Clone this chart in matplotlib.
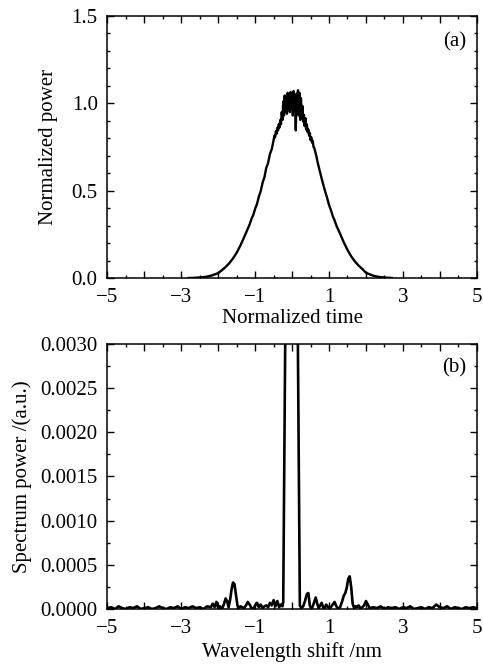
import matplotlib
matplotlib.use("Agg")
import matplotlib.pyplot as plt
from matplotlib.ticker import MultipleLocator, FuncFormatter

plt.rcParams['font.family'] = ['Liberation Serif', 'DejaVu Serif']
plt.rcParams['font.size'] = 15

# (a) pulse in time domain
time_a = [-2.8, -2.7, -2.6, -2.5, -2.4, -2.3, -2.2, -2.1, -2.0, -1.9, -1.8, -1.7,
          -1.6, -1.5, -1.4, -1.3, -1.2, -1.15, -1.1, -1.05, -1.0, -0.95, -0.9,
          -0.85, -0.8, -0.75, -0.7, -0.65, -0.6, -0.55,
          -0.50, -0.48, -0.46, -0.44, -0.42, -0.40, -0.38, -0.36, -0.34, -0.32,
          -0.30, -0.28, -0.26, -0.24, -0.22, -0.20, -0.18, -0.16, -0.14, -0.12,
          -0.10, -0.08, -0.06, -0.04, -0.02, 0.00, 0.02, 0.04, 0.06, 0.08,
          0.10, 0.12, 0.14, 0.16, 0.18, 0.20, 0.22, 0.24, 0.26, 0.28,
          0.30, 0.32, 0.34, 0.36, 0.38, 0.40, 0.42, 0.44, 0.46, 0.48,
          0.50, 0.52, 0.54, 0.56, 0.58, 0.60,
          0.65, 0.70, 0.75, 0.80, 0.85, 0.90, 0.95, 1.00, 1.05, 1.10, 1.15,
          1.20, 1.30, 1.40, 1.50, 1.60, 1.70, 1.80, 1.90, 2.00, 2.10, 2.20,
          2.30, 2.40, 2.50, 2.60, 2.70]
power_a = [0.0, 0.0005, 0.0015, 0.003, 0.005, 0.008, 0.013, 0.020, 0.028, 0.045, 0.063, 0.085,
           0.112, 0.145, 0.186, 0.233, 0.282, 0.307, 0.338, 0.362, 0.397, 0.424, 0.466,
           0.497, 0.545, 0.576, 0.630, 0.658, 0.710, 0.738,
           0.790, 0.815, 0.805, 0.840, 0.825, 0.860, 0.845, 0.880, 0.862, 0.905,
           0.880, 0.950, 0.905, 1.010, 0.930, 1.045, 0.955, 1.030, 0.940, 1.060,
           0.965, 1.035, 0.950, 1.065, 0.970, 1.050, 0.930, 1.070, 0.960, 1.040,
           0.845, 1.055, 0.950, 1.075, 0.930, 1.060, 0.905, 1.030, 0.920, 0.985,
           0.895, 0.935, 0.870, 0.915, 0.850, 0.880, 0.835, 0.850, 0.815, 0.830,
           0.790, 0.805, 0.775, 0.785, 0.750, 0.745,
           0.705, 0.655, 0.612, 0.570, 0.530, 0.492, 0.458, 0.418, 0.390, 0.355, 0.330,
           0.300, 0.253, 0.204, 0.161, 0.124, 0.095, 0.071, 0.052, 0.030, 0.021, 0.013,
           0.008, 0.005, 0.003, 0.0015, 0.0]

# (b) spectrum
shift_b = [-5.0, -4.9, -4.8, -4.7, -4.6, -4.5, -4.4, -4.3, -4.2, -4.1, -4.0, -3.9,
           -3.8, -3.7, -3.6, -3.5, -3.4, -3.3, -3.2, -3.1, -3.0, -2.9, -2.8, -2.7,
           -2.6, -2.5, -2.4, -2.3, -2.2, -2.15, -2.1, -2.05, -2.0, -1.95, -1.9, -1.85,
           -1.8, -1.76, -1.72, -1.68, -1.64, -1.60, -1.56, -1.52, -1.48, -1.44, -1.40,
           -1.35, -1.30, -1.25, -1.20, -1.15, -1.10, -1.05, -1.00, -0.95, -0.90, -0.85,
           -0.80, -0.75, -0.70, -0.65, -0.60, -0.55, -0.50, -0.45, -0.40, -0.35, -0.30,
           -0.26, -0.24, -0.185, -0.10, 0.0, 0.08, 0.155, 0.21, 0.25, 0.30, 0.35, 0.40,
           0.44, 0.48, 0.52, 0.56, 0.60, 0.64, 0.68, 0.72, 0.76, 0.80, 0.84, 0.88, 0.92,
           0.96, 1.00, 1.05, 1.10, 1.15, 1.20, 1.25, 1.30, 1.35, 1.40, 1.44, 1.48, 1.52,
           1.56, 1.60, 1.64, 1.68, 1.72, 1.76, 1.80, 1.85, 1.90, 1.95, 2.00, 2.05, 2.10,
           2.2, 2.3, 2.4, 2.5, 2.6, 2.7, 2.8, 2.9, 3.0, 3.1, 3.2, 3.3, 3.4, 3.5, 3.6,
           3.7, 3.8, 3.9, 4.0, 4.1, 4.2, 4.3, 4.4, 4.5, 4.6, 4.7, 4.8, 4.9, 5.0]
spec_b = [0.00001, 0.00002, 0.0, 0.00003, 0.00001, 0.0, 0.00002, 0.00001, 0.00003, 0.0, 0.00001, 0.00002,
          0.0, 0.00001, 0.00003, 0.00001, 0.0, 0.00002, 0.00001, 0.00003, 0.0, 0.00002, 0.00001, 0.00003,
          0.00001, 0.00002, 0.0, 0.00003, 0.00002, 0.00006, 0.00002, 0.00008, 0.00001, 0.00003, 0.0, 0.00005,
          0.00012, 0.00009, 0.00002, 0.00010, 0.00022, 0.00030, 0.00028, 0.00016, 0.00004, 0.00001, 0.00003,
          0.00002, 0.00001, 0.00004, 0.00008, 0.00005, 0.00001, 0.0, 0.00004, 0.00007, 0.00002, 0.00005,
          0.00001, 0.00003, 0.00004, 0.00002, 0.00007, 0.00004, 0.00010, 0.00003, 0.00009, 0.00002, 0.00005,
          0.00003, 0.00008, 0.0031, 0.05, 1.0, 0.05, 0.0031, 0.00004, 0.00001, 0.00003, 0.00009, 0.00017,
          0.00018, 0.00004, 0.0, 0.00003, 0.00008, 0.00013, 0.00006, 0.00001, 0.00004, 0.00007, 0.00002, 0.0, 0.00005,
          0.00003, 0.00001, 0.00002, 0.00005, 0.00008, 0.00003, 0.0, 0.00002, 0.00008, 0.00015, 0.00018, 0.00024, 0.00034,
          0.00037, 0.00025, 0.00006, 0.00001, 0.00003, 0.00002, 0.00004, 0.00001, 0.00002, 0.00004, 0.00009, 0.00005, 0.00001,
          0.00002, 0.00001, 0.00003, 0.0, 0.00002, 0.00001, 0.00002, 0.0, 0.00002, 0.00001, 0.00003, 0.0, 0.00001, 0.00002, 0.0,
          0.00002, 0.00001, 0.00005, 0.00002, 0.00001, 0.00003, 0.0, 0.00002, 0.00001, 0.0, 0.00002, 0.00001, 0.00002, 0.00001]

x_ticks = [-5, -3, -1, 1, 3, 5]


def style_axes(ax):
    ax.tick_params(which='both', direction='in', top=True, right=True, width=1.0)
    ax.tick_params(which='major', length=5, pad=7)
    ax.tick_params(which='minor', length=2.5)
    ax.xaxis.set_major_locator(MultipleLocator(1))
    ax.xaxis.set_minor_locator(MultipleLocator(0.5))
    ax.xaxis.set_major_formatter(FuncFormatter(
        lambda v, p: ('\u2212%d' % abs(round(v)) if v < 0 else '%d' % round(v)) if round(v) in x_ticks else ''))
    for s in ax.spines.values():
        s.set_linewidth(1.1)


fig = plt.figure(figsize=(4.83, 6.66), dpi=100)

ax1 = fig.add_axes([0.2225, 0.5826, 0.7645, 0.3934])
ax1.plot(time_a, power_a, color='black', lw=1.7)
ax1.set_xlim(-5, 5)
ax1.set_ylim(0, 1.5)
style_axes(ax1)
ax1.yaxis.set_major_locator(MultipleLocator(0.5))
ax1.yaxis.set_minor_locator(MultipleLocator(0.1))
ax1.yaxis.set_major_formatter(FuncFormatter(lambda v, p: '%.1f' % v))
ax1.set_xlabel('Normalized time', labelpad=2)
ax1.set_ylabel('Normalized power')
ax1.yaxis.set_label_coords(-0.135, 0.5)
ax1.text(0.94, 0.9, '(a)', transform=ax1.transAxes, ha='center', va='center')

ax2 = fig.add_axes([0.2225, 0.0856, 0.7645, 0.3979])
ax2.plot(shift_b, spec_b, color='black', lw=1.9)
ax2.set_xlim(-5, 5)
ax2.set_ylim(0, 0.003)
style_axes(ax2)
ax2.yaxis.set_major_locator(MultipleLocator(0.0005))
ax2.yaxis.set_minor_locator(MultipleLocator(0.00025))
ax2.yaxis.set_major_formatter(FuncFormatter(lambda v, p: '%.4f' % v))
ax2.set_xlabel('Wavelength shift /nm', labelpad=3)
ax2.set_ylabel('Spectrum power /(a.u.)')
ax2.yaxis.set_label_coords(-0.205, 0.5)
ax2.text(0.94, 0.91, '(b)', transform=ax2.transAxes, ha='center', va='center')

fig.savefig('out.png', dpi=100)
